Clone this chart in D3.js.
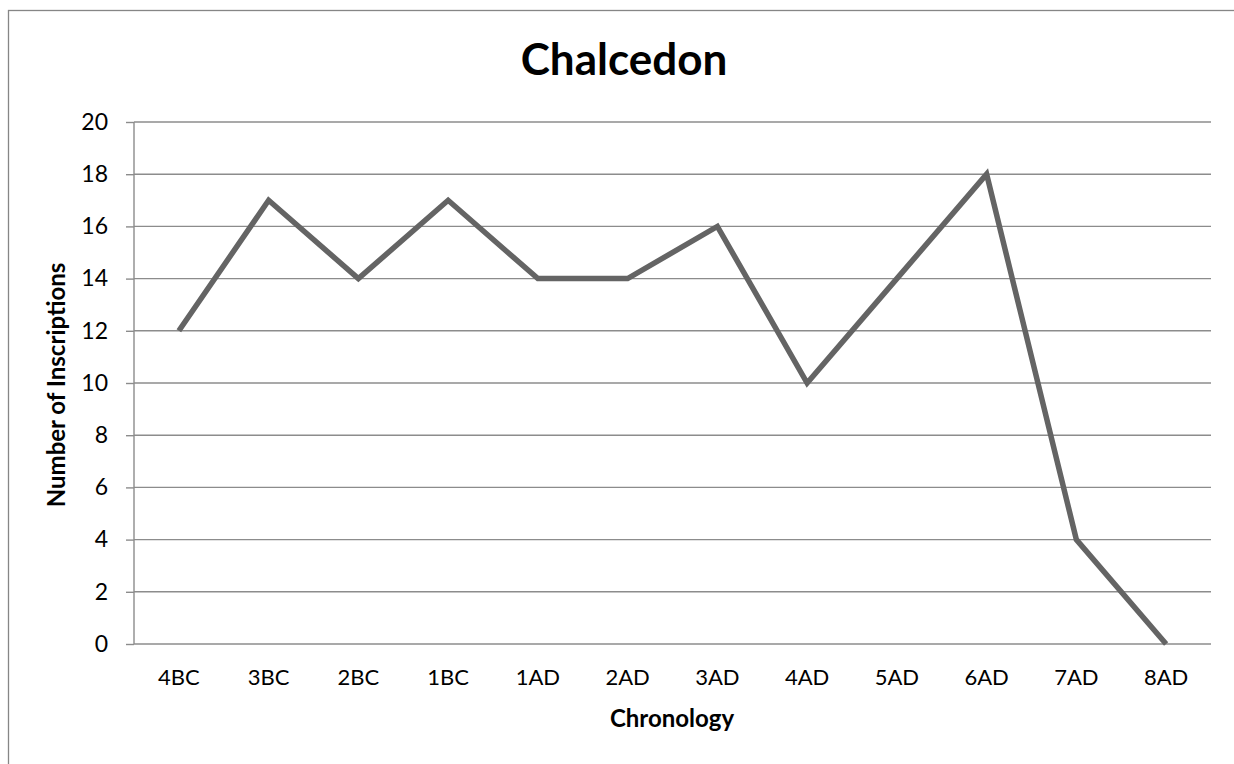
<!DOCTYPE html>
<html><head><meta charset="utf-8">
<script src="https://cdn.jsdelivr.net/npm/d3@7"></script>
<style>html,body{margin:0;padding:0;background:#fff;overflow:hidden;}svg{display:block;}</style>
</head><body>
<svg id="c" width="1234" height="764"></svg>
<script>
const categories = ["4BC","3BC","2BC","1BC","1AD","2AD","3AD","4AD","5AD","6AD","7AD","8AD"];
const values = [12,17,14,17,14,14,16,10,14,18,4,0];
const yTicks = [0,2,4,6,8,10,12,14,16,18,20];
const title = "Chalcedon";
const xTitle = "Chronology";
const yTitle = "Number of Inscriptions";

const svg = d3.select("#c");
const font = "Lato, 'Open Sans', sans-serif";
const pLeft = 134, pRight = 1211, pTop = 122, pBottom = 644;

// chart border (extends beyond viewport)
svg.append("rect").attr("x",8.5).attr("y",10.5).attr("width",1400).attr("height",900)
  .attr("fill","none").attr("stroke","#868686").attr("stroke-width",1.3);

const x = d3.scaleBand().domain(categories).range([pLeft,pRight]);
const y = d3.scaleLinear().domain([0,20]).range([pBottom,pTop]);

// gridlines
svg.append("g").selectAll("line").data(yTicks.filter(d=>d>0)).join("line")
  .attr("x1",pLeft).attr("x2",pRight).attr("y1",d=>y(d)).attr("y2",d=>y(d))
  .attr("stroke","#8c8c8c").attr("stroke-width",1.4);

// y axis
const yAxis = svg.append("g").attr("transform",`translate(${pLeft},0)`)
  .call(d3.axisLeft(y).tickValues(yTicks).tickSize(8).tickPadding(18));
yAxis.select(".domain").attr("stroke","#8c8c8c").attr("stroke-width",1.4).attr("d",`M0,${pTop}V${pBottom}`);
yAxis.selectAll(".tick line").attr("stroke","#8c8c8c").attr("stroke-width",1.4);
yAxis.selectAll(".tick text").attr("font-family",font).attr("font-size",23).attr("fill","#000");

// x axis
const xAxis = svg.append("g").attr("transform",`translate(0,${pBottom})`)
  .call(d3.axisBottom(x).tickSize(0).tickPadding(25));
xAxis.select(".domain").attr("stroke","#8c8c8c").attr("stroke-width",1.4).attr("d",`M${pLeft},0H${pRight}`);
xAxis.selectAll(".tick text").attr("font-family",font).attr("font-size",22).attr("fill","#000");

// line
const line = d3.line().x((d,i)=>x(categories[i])+x.bandwidth()/2).y(d=>y(d));
svg.append("path").datum(values).attr("d",line).attr("fill","none")
  .attr("stroke","#646464").attr("stroke-width",5.5).attr("stroke-linejoin","miter").attr("stroke-linecap","butt");

// titles
svg.append("text").attr("x",624).attr("y",75).attr("text-anchor","middle")
  .attr("font-family",font).attr("font-weight","bold").attr("font-size",44).text(title);
svg.append("text").attr("x",672).attr("y",727).attr("text-anchor","middle")
  .attr("font-family",font).attr("font-weight","bold").attr("font-size",24).text(xTitle);
svg.append("text").attr("transform","translate(65,385) rotate(-90)").attr("text-anchor","middle")
  .attr("font-family",font).attr("font-weight","bold").attr("font-size",24).text(yTitle);
</script>
</body></html>
